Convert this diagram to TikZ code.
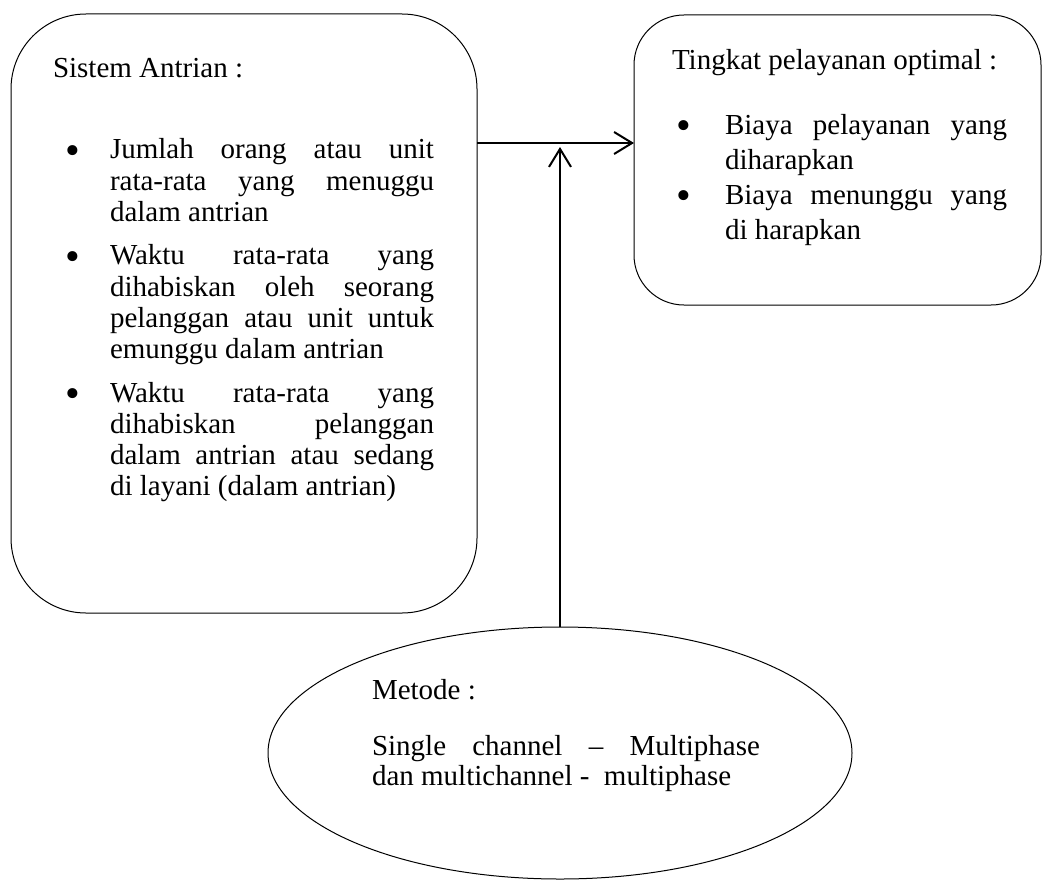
\documentclass[tikz,border=0pt]{standalone}
\usepackage{fontspec}
\setmainfont{Liberation Serif}
\usetikzlibrary{arrows.meta,shapes.geometric}
% a line stretched to the given width (justified line)
\newcommand\jl[2]{\makebox[#1][s]{#2}}
% a large list bullet
\newcommand\bigbul{\raisebox{-5pt}{\fontsize{42}{42}\selectfont\textbullet}}
% bullets and hanging indents of the two lists
\newcommand\lbul{\hspace*{12pt}\makebox[45pt][l]{\bigbul}}
\newcommand\lind{\hspace*{57pt}}
\newcommand\rbul{\hspace*{4pt}\makebox[49pt][l]{\bigbul}}
\newcommand\rind{\hspace*{53pt}}
\begin{document}
\begin{tikzpicture}[x=1pt,y=-1pt,
  box/.style={draw, line width=1pt, inner sep=0pt, outer sep=0pt},
  txt/.style={anchor=base west, inner sep=0pt, outer sep=0pt},
  conn/.style={line width=2pt, -{Straight Barb[length=18pt,width=22pt]}}]
\useasboundingbox (0,0) rectangle (1043,880);

% boxes
\node[box, rounded corners=75pt, minimum width=466pt, minimum height=599pt] (sys) at (244,313.5) {};
\node[box, rounded corners=50pt, minimum width=407pt, minimum height=290pt] (opt) at (837.5,160) {};
\node[box, ellipse, minimum width=584pt, minimum height=252pt] (met) at (560,753) {};

% texts
\node[txt] (systxt) at (53,78) {\parbox[t]{420pt}{\fontsize{29}{31}\selectfont
Sistem Antrian :\\[50pt]
\lbul\jl{324pt}{Jumlah orang atau unit}\\
\lind\jl{324pt}{rata-rata yang menuggu}\\
\lind dalam antrian\\[13pt]
\lbul\jl{324pt}{Waktu rata-rata yang}\\
\lind\jl{324pt}{dihabiskan oleh seorang}\\
\lind\jl{324pt}{pelanggan atau unit untuk}\\
\lind emunggu dalam antrian\\[13pt]
\lbul\jl{324pt}{Waktu rata-rata yang}\\
\lind\jl{324pt}{dihabiskan pelanggan}\\
\lind\jl{324pt}{dalam antrian atau sedang}\\
\lind di layani (dalam antrian)}};

\node[txt] (opttxt) at (672,70) {\parbox[t]{360pt}{\fontsize{29}{35}\selectfont
Tingkat pelayanan optimal :\\[30pt]
\rbul\jl{282pt}{Biaya pelayanan yang}\\
\rind diharapkan\\
\rbul\jl{282pt}{Biaya menunggu yang}\\
\rind di harapkan}};

\node[txt] (mettxt) at (372,699) {\parbox[t]{420pt}{\fontsize{29}{30}\selectfont
Metode :\\[26pt]
\jl{388pt}{Single channel – Multiphase}\\
dan multichannel -\ \ multiphase}};

% connectors
\coordinate (hy) at (0,143);
\draw[conn] (sys.east |- hy) -- (opt.west |- hy);
\draw[conn, shorten >=4pt] (met.north) -- (met.north |- hy);
\end{tikzpicture}
\end{document}
